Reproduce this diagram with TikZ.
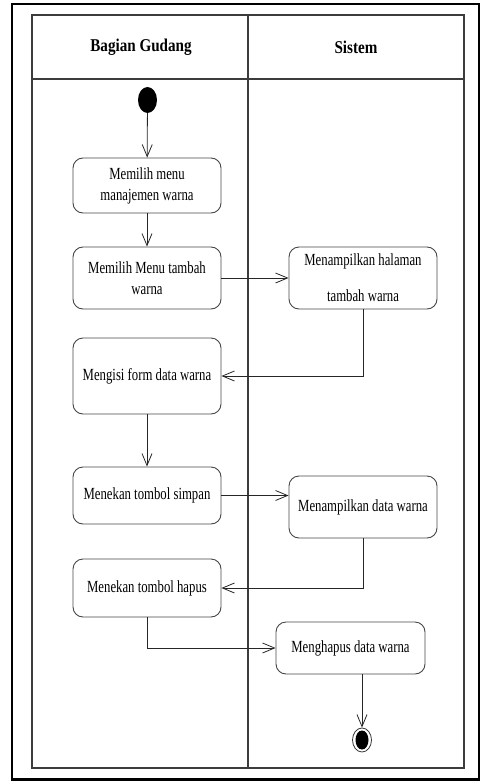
\documentclass[tikz,border=0pt]{standalone}
\usepackage{fontspec}
\setmainfont{Liberation Serif}[FakeStretch=0.75]
\newfontfamily\lanefont{Liberation Serif}[FakeStretch=0.84]
\usetikzlibrary{arrows.meta, shapes.geometric}
\definecolor{laneline}{RGB}{60, 60, 60}
\definecolor{boxline}{RGB}{70, 70, 70}

\begin{document}
\begin{tikzpicture}[x=1pt, y=-1pt, >={Straight Barb[length=12pt, width=10pt]},
  activity/.style={draw=boxline, line width=0.9pt, rounded corners=10pt,
    minimum width=148pt, align=center, inner sep=2pt,
    font=\fontsize{17}{21}\selectfont},
  startdot/.style={ellipse, fill=black, minimum width=19pt,
    minimum height=26pt, inner sep=0pt},
  enddot/.style={ellipse, draw=black!80, line width=0.8pt, minimum width=19pt,
    minimum height=24pt, inner sep=0pt,
    path picture={\fill[black] (path picture bounding box.center) ellipse (6.5pt and 9.5pt);}},
  lanehead/.style={font=\lanefont\bfseries\fontsize{18}{22}\selectfont},
  flow/.style={->, line width=0.8pt, black!85}]

  % Frame
  \useasboundingbox (0,0) rectangle (481,781);
  \draw[line width=2.5pt] (12,4) rectangle (479,779.5);

  % Swimlanes
  \draw[laneline, line width=1.4pt] (32,15) rectangle (464,768);
  \draw[laneline, line width=1.4pt] (32,79) -- (464,79);
  \draw[laneline, line width=1.4pt] (248,15) -- (248,768);
  \node[lanehead] (gudang) at (141,47) {Bagian Gudang};
  \node[lanehead] (sistem) at (356,47) {Sistem};

  % Activities
  \node[startdot] (mulai) at (147.5,100) {};
  \node[activity, minimum height=55pt] (menu) at (147,185.5) {Memilih menu\\manajemen warna};
  \node[activity, minimum height=62pt] (tambah) at (147,278) {Memilih Menu tambah\\warna};
  \node[activity, minimum height=62pt, font=\fontsize{17}{36}\selectfont] (halaman) at (363,278) {Menampilkan halaman\\tambah warna};
  \node[activity, minimum height=76pt] (isi) at (147,376) {Mengisi form data warna};
  \node[activity, minimum height=57pt] (simpan) at (147,495.5) {Menekan tombol simpan};
  \node[activity, minimum height=62pt] (tampil) at (363,507) {Menampilkan data warna};
  \node[activity, minimum height=58pt] (hapus) at (147,588) {Menekan tombol hapus};
  \node[activity, minimum height=52pt, minimum width=149pt] (menghapus) at (350.5,648) {Menghapus data warna};
  \node[enddot] (selesai) at (362,740) {};

  % Flows
  \draw[flow] (mulai) -- (menu);
  \draw[flow] (menu) -- (tambah);
  \draw[flow] (tambah) -- (halaman);
  \draw[flow] (halaman.south) |- (isi.east);
  \draw[flow] (isi) -- (simpan);
  \draw[flow] (simpan.east) -- (simpan.east -| tampil.west);
  \draw[flow] (tampil.south) |- (hapus.east);
  \draw[flow] (hapus.south) |- (menghapus.west);
  \draw[flow] (menghapus.south -| selesai) -- (selesai);

\end{tikzpicture}
\end{document}
